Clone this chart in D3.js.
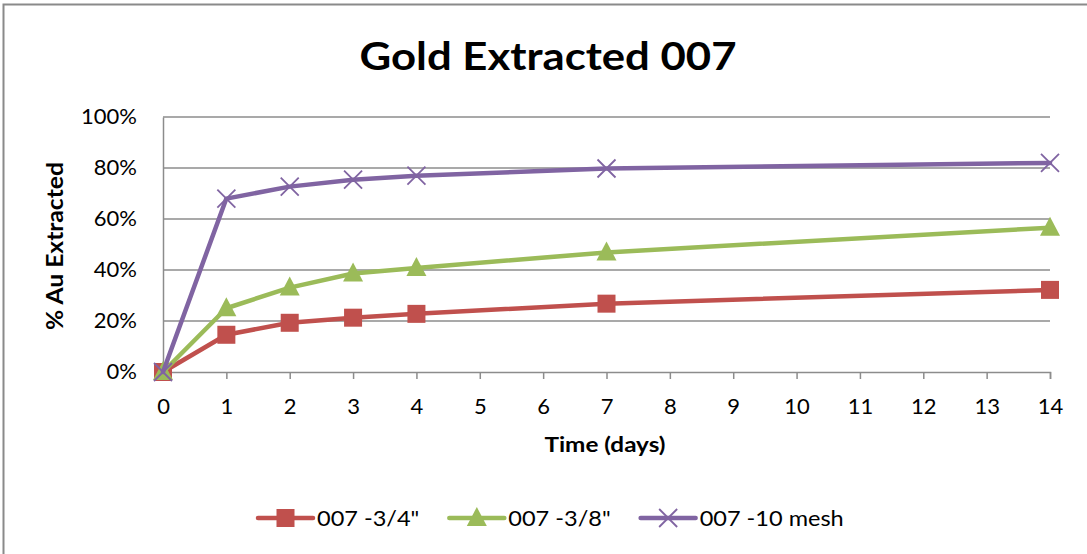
<!DOCTYPE html>
<html>
<head>
<meta charset="utf-8">
<script src="https://cdn.jsdelivr.net/npm/d3@7"></script>
<style>
  html, body { margin: 0; padding: 0; background: #fff; }
  svg { display: block; }
  text { font-family: Lato, "Liberation Sans", sans-serif; fill: #000; }
</style>
</head>
<body>
<svg id="chart" width="1087" height="554"></svg>
<script>
// Days of leaching and fraction of gold extracted per crush size
const days = [0, 1, 2, 3, 4, 7, 14];
const xTicks = d3.range(0, 15);
const yTicks = [0, 0.2, 0.4, 0.6, 0.8, 1.0];
const seriesNames = ['007 -3/4"', '007 -3/8"', "007 -10 mesh"];
const coarse = [0, 0.146, 0.193, 0.213, 0.228, 0.268, 0.322];
const medium = [0, 0.250, 0.331, 0.386, 0.408, 0.469, 0.566];
const fine = [0, 0.680, 0.727, 0.754, 0.770, 0.798, 0.820];
const colors = ["#C0504D", "#9BBB59", "#8064A2"];
const markers = ["square", "triangle", "cross"];

const series = [coarse, medium, fine].map((vals, i) => ({
  name: seriesNames[i], color: colors[i], marker: markers[i],
  points: days.map((d, j) => ({ x: d, y: vals[j] }))
}));

const svg = d3.select("#chart");

// widen glyphs horizontally by factor k, keeping the font height
function stretch(sel, k) {
  sel.each(function () {
    const w = this.getComputedTextLength();
    d3.select(this).attr("textLength", w * k).attr("lengthAdjust", "spacingAndGlyphs");
  });
}

// outer chart frame
svg.append("rect")
  .attr("x", 3.5).attr("y", 4.5).attr("width", 1100).attr("height", 560)
  .attr("fill", "none").attr("stroke", "#8a8a8a").attr("stroke-width", 2);

const plot = { left: 163, right: 1050, top: 117, bottom: 372 };
const x = d3.scaleLinear().domain([0, 14]).range([plot.left, plot.right]);
const y = d3.scaleLinear().domain([0, 1]).range([plot.bottom, plot.top]);

// horizontal gridlines
svg.append("g").selectAll("line").data(yTicks.filter(d => d > 0)).join("line")
  .attr("x1", plot.left).attr("x2", plot.right)
  .attr("y1", d => y(d)).attr("y2", d => y(d))
  .attr("stroke", "#8c8c8c").attr("stroke-width", 1.3);

// y axis
const yAxis = svg.append("g").attr("transform", `translate(${plot.left},0)`)
  .call(d3.axisLeft(y).tickValues(yTicks).tickFormat(d3.format(".0%")).tickSize(0).tickPadding(26));
yAxis.select(".domain").attr("stroke", "#8c8c8c").attr("stroke-width", 1.5);
yAxis.selectAll("text").style("font-size", "22px").attr("fill", "#000").attr("dy", "0.3em");

// x axis
const xAxis = svg.append("g").attr("transform", `translate(0,${plot.bottom})`)
  .call(d3.axisBottom(x).tickValues(xTicks).tickFormat(d3.format("d")).tickSizeOuter(0).tickSize(7).tickPadding(19));
xAxis.select(".domain").attr("stroke", "#8c8c8c").attr("stroke-width", 1.5);
xAxis.selectAll(".tick line").attr("stroke", "#8c8c8c").attr("stroke-width", 1.5);
xAxis.selectAll("text").style("font-size", "22px").attr("fill", "#000");

// titles
svg.append("text").attr("x", 548).attr("y", 70).attr("text-anchor", "middle")
  .style("font-size", "39px").style("font-weight", "bold").text("Gold Extracted 007")
  .call(stretch, 1.12);
svg.append("text").attr("x", 605).attr("y", 452).attr("text-anchor", "middle")
  .style("font-size", "21.5px").style("font-weight", "bold").text("Time (days)")
  .call(stretch, 1.13);
svg.append("text").attr("transform", "translate(63,246) rotate(-90)").attr("text-anchor", "middle")
  .style("font-size", "22px").style("font-weight", "bold").text("% Au Extracted")
  .call(stretch, 1.12);

function drawMarker(g, type, color) {
  if (type === "square") {
    g.append("rect").attr("x", -9).attr("y", -9).attr("width", 18).attr("height", 18).attr("fill", color);
  } else if (type === "triangle") {
    g.append("path").attr("d", "M0,-11 L10,8 L-10,8 Z").attr("fill", color);
  } else {
    g.append("path").attr("d", "M-9,-9 L9,9 M-9,9 L9,-9")
      .attr("stroke", color).attr("stroke-width", 1.8).attr("fill", "none");
  }
}

const line = d3.line().x(d => x(d.x)).y(d => y(d.y));

series.forEach(s => {
  const g = svg.append("g");
  g.append("path").datum(s.points).attr("d", line)
    .attr("fill", "none").attr("stroke", s.color).attr("stroke-width", 4.5)
    .attr("stroke-linejoin", "round").attr("stroke-linecap", "round");
  s.points.forEach(p => {
    const m = g.append("g").attr("transform", `translate(${x(p.x)},${y(p.y)})`);
    drawMarker(m, s.marker, s.color);
  });
});

// legend, entries laid out left to right
let cursor = 258;
const legendY = 518;
series.forEach(s => {
  const g = svg.append("g").attr("transform", `translate(${cursor},${legendY})`);
  g.append("line").attr("x1", 0).attr("x2", 55).attr("y1", 0).attr("y2", 0)
    .attr("stroke", s.color).attr("stroke-width", 4.5).attr("stroke-linecap", "round");
  const m = g.append("g").attr("transform", "translate(27.5,0)");
  drawMarker(m, s.marker, s.color);
  const t = g.append("text").attr("x", 59).attr("y", 0).attr("dy", "0.36em")
    .style("font-size", "21px").text(s.name);
  t.call(stretch, 1.12);
  cursor += 59 + (+t.attr("textLength")) + 30;
});
</script>
</body>
</html>
